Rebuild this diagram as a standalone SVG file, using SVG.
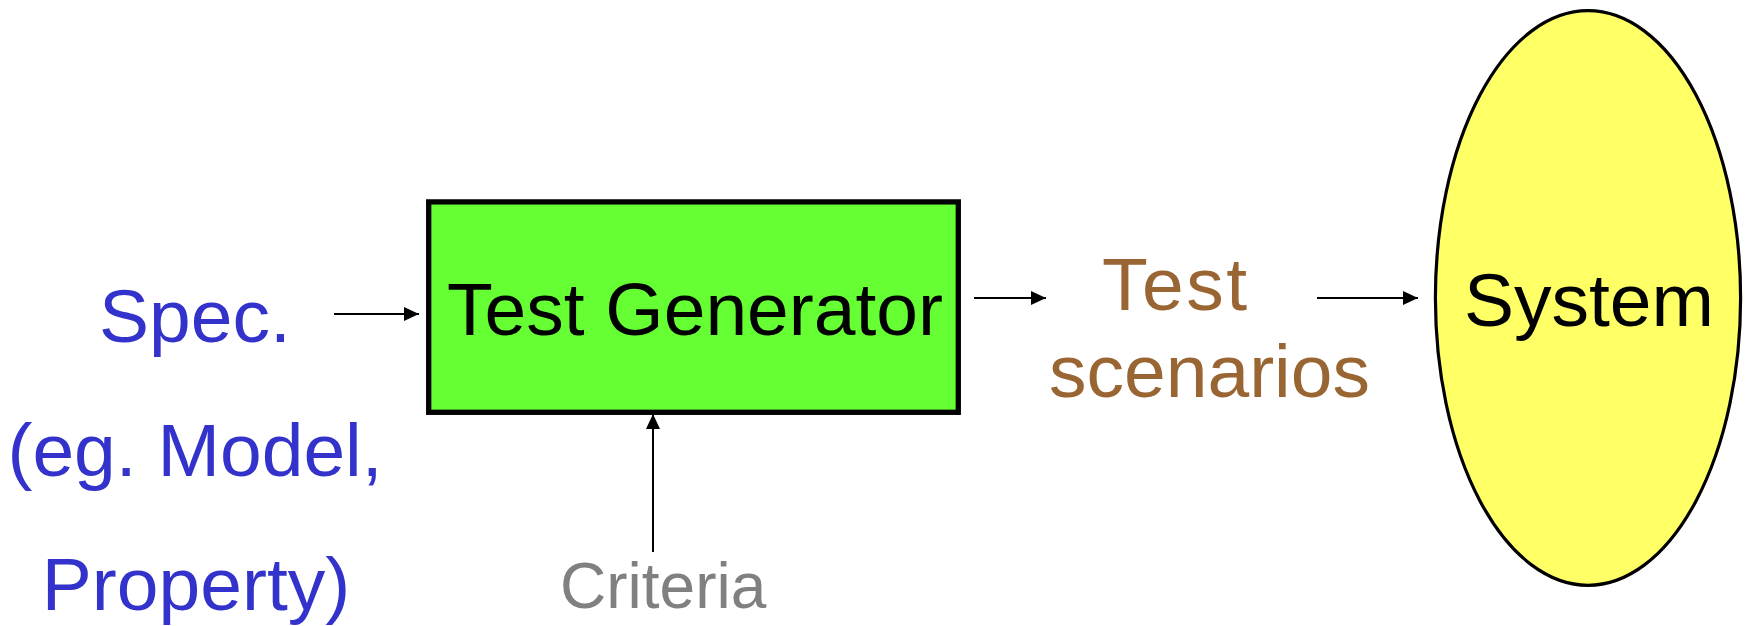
<svg xmlns="http://www.w3.org/2000/svg" width="1748" height="626" viewBox="0 0 1748 626">
  <style>
    text { font-family: "Liberation Sans", Arial, sans-serif; font-size: 75px; }
    .spec { fill: #3333cc; text-anchor: middle; }
    .scen { fill: #996633; }
    .dark { fill: #000000; text-anchor: middle; }
    .crit { fill: #808080; font-size: 64px; }
    .edge { stroke: #000000; stroke-width: 2; fill: none; }
  </style>
  <defs>
    <marker id="arrow" markerUnits="userSpaceOnUse" markerWidth="15" markerHeight="14" refX="15" refY="7" orient="auto">
      <path d="M0,0 L15,7 L0,14 z" fill="#000000"/>
    </marker>
  </defs>

  <rect width="1748" height="626" fill="#ffffff"/>

  <!-- specification input -->
  <g id="spec">
    <text class="spec" x="195" y="342">Spec.</text>
    <text class="spec" x="195" y="476">(eg. Model,</text>
    <text class="spec" x="196" y="610">Property)</text>
  </g>

  <!-- generator block -->
  <g id="test-generator">
    <rect x="428.7" y="201.9" width="529.6" height="210.4" fill="#66ff33" stroke="#000000" stroke-width="5.3"/>
    <text class="dark" x="695" y="335">Test Generator</text>
  </g>

  <!-- generated scenarios -->
  <g id="test-scenarios">
    <text class="scen" x="1102" y="310" textLength="145">Test</text>
    <text class="scen" x="1049" y="397">scenarios</text>
  </g>

  <!-- system under test -->
  <g id="system">
    <ellipse cx="1588" cy="298" rx="152.6" ry="287.3" fill="#ffff66" stroke="#000000" stroke-width="3.2"/>
    <text class="dark" x="1589" y="326">System</text>
  </g>

  <!-- coverage criteria -->
  <g id="criteria">
    <text class="crit" x="560" y="608">Criteria</text>
  </g>

  <g id="connectors">
    <line class="edge" x1="334" y1="314" x2="419" y2="314" marker-end="url(#arrow)"/>
    <line class="edge" x1="974" y1="298" x2="1046" y2="298" marker-end="url(#arrow)"/>
    <line class="edge" x1="1317" y1="298" x2="1418" y2="298" marker-end="url(#arrow)"/>
    <line class="edge" x1="653" y1="552" x2="653" y2="414" marker-end="url(#arrow)"/>
  </g>
</svg>
